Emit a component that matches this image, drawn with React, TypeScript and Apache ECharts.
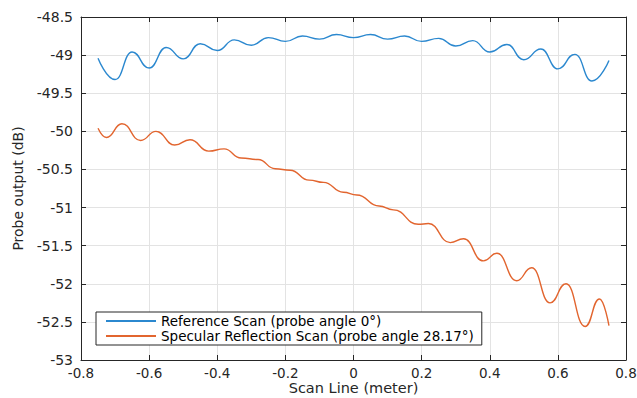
import React, { useEffect, useRef } from "react";
import * as echarts from "echarts";

// Reference scan: peaks and troughs
const refX = [-0.75, -0.7, -0.65, -0.6, -0.55, -0.5, -0.45, -0.4, -0.35, -0.3, -0.25, -0.2, -0.15, -0.1, -0.05, 0, 0.05, 0.1, 0.15, 0.2, 0.25, 0.3, 0.35, 0.4, 0.45, 0.5, 0.55, 0.6, 0.65, 0.7, 0.75];
const refY = [-49.04, -49.32, -48.96, -49.17, -48.9, -49.05, -48.85, -48.94, -48.8, -48.87, -48.77, -48.82, -48.75, -48.79, -48.73, -48.77, -48.73, -48.79, -48.75, -48.82, -48.78, -48.88, -48.81, -48.96, -48.86, -49.06, -48.92, -49.18, -48.99, -49.34, -49.07];

// Specular reflection scan: peaks, troughs and shoulders
const specX = [-0.75, -0.725, -0.68, -0.625, -0.58, -0.525, -0.48, -0.425, -0.38, -0.33, -0.28, -0.23, -0.186, -0.13, -0.088, -0.03, 0.01, 0.075, 0.117, 0.19, 0.22, 0.284, 0.323, 0.381, 0.421, 0.479, 0.523, 0.577, 0.624, 0.68, 0.722, 0.75];
const specY = [-49.96, -50.08, -49.9, -50.12, -50.0, -50.18, -50.11, -50.26, -50.23, -50.35, -50.37, -50.49, -50.51, -50.64, -50.67, -50.8, -50.835, -50.98, -51.03, -51.22, -51.21, -51.46, -51.41, -51.7, -51.6, -51.96, -51.79, -52.25, -52.0, -52.56, -52.2, -52.55];

const seriesNames = ["Reference Scan (probe angle 0°)", "Specular Reflection Scan (probe angle 28.17°)"];
const xLabel = "Scan Line (meter)";
const yLabel = "Probe output (dB)";

const FONT = "DejaVu Sans";
const AX = "#262626";
const BLUE = "#2b88cf";
const ORANGE = "#e2652f";

export default function App() {
  const ref = useRef<HTMLDivElement>(null);
  useEffect(() => {
    if (!ref.current) return;
    const chart = echarts.init(ref.current, null, { renderer: "svg" });
    const gridLine = { show: true, lineStyle: { color: "#e3e3e3", width: 1 } };
    const baseAxis = {
      axisLine: { show: true, onZero: false, lineStyle: { color: AX, width: 1 } },
      axisTick: { show: true, inside: true, length: 5, lineStyle: { color: AX } },
    };
    chart.setOption({
      animation: false,
      backgroundColor: "#fff",
      grid: { left: 81, right: 11, top: 17, bottom: 38, containLabel: false, outerBoundsMode: "none" },
      legend: {
        orient: "vertical",
        left: 96,
        top: 312,
        backgroundColor: "#fff",
        borderColor: AX,
        borderWidth: 1,
        borderRadius: 0,
        padding: [2, 8, 2, 10],
        itemGap: 1,
        itemWidth: 50,
        itemHeight: 2,
        icon: "rect",
        textStyle: { fontFamily: FONT, fontSize: 13.5, color: "#000" },
        data: seriesNames,
      },
      xAxis: [
        {
          type: "value",
          min: -0.8,
          max: 0.8,
          interval: 0.2,
          position: "bottom",
          ...baseAxis,
          splitLine: gridLine,
          axisLabel: { fontFamily: FONT, fontSize: 13.5, color: AX, margin: 6 },
          name: xLabel,
          nameLocation: "middle",
          nameGap: 20,
          nameMoveOverlap: false,
          nameTextStyle: { fontFamily: FONT, fontSize: 14.5, color: AX, lineHeight: 15 },
        },
        {
          type: "value",
          min: -0.8,
          max: 0.8,
          interval: 0.2,
          position: "top",
          ...baseAxis,
          splitLine: { show: false },
          axisLabel: { show: false },
        },
      ],
      yAxis: [
        {
          type: "value",
          min: -53,
          max: -48.5,
          interval: 0.5,
          position: "left",
          ...baseAxis,
          splitLine: gridLine,
          axisLabel: { fontFamily: FONT, fontSize: 14, color: AX, margin: 8 },
          name: yLabel,
          nameLocation: "middle",
          nameRotate: 90,
          nameGap: 56,
          nameMoveOverlap: false,
          nameTextStyle: { fontFamily: FONT, fontSize: 14, color: AX },
        },
        {
          type: "value",
          min: -53,
          max: -48.5,
          interval: 0.5,
          position: "right",
          ...baseAxis,
          splitLine: { show: false },
          axisLabel: { show: false },
        },
      ],
      series: [
        {
          name: seriesNames[0],
          type: "line",
          data: refX.map((x, i) => [x, refY[i]]),
          smooth: 0.5,
          smoothMonotone: "x",
          symbol: "none",
          lineStyle: { color: BLUE, width: 1.4 },
          itemStyle: { color: BLUE },
        },
        {
          name: seriesNames[1],
          type: "line",
          data: specX.map((x, i) => [x, specY[i]]),
          smooth: 0.5,
          smoothMonotone: "x",
          symbol: "none",
          lineStyle: { color: ORANGE, width: 1.4 },
          itemStyle: { color: ORANGE },
        },
      ],
    });
    return () => chart.dispose();
  }, []);
  return (
    <div
      ref={ref}
      style={{ position: "fixed", left: 0, top: 0, width: 637, height: 398, background: "#fff" }}
    />
  );
}
